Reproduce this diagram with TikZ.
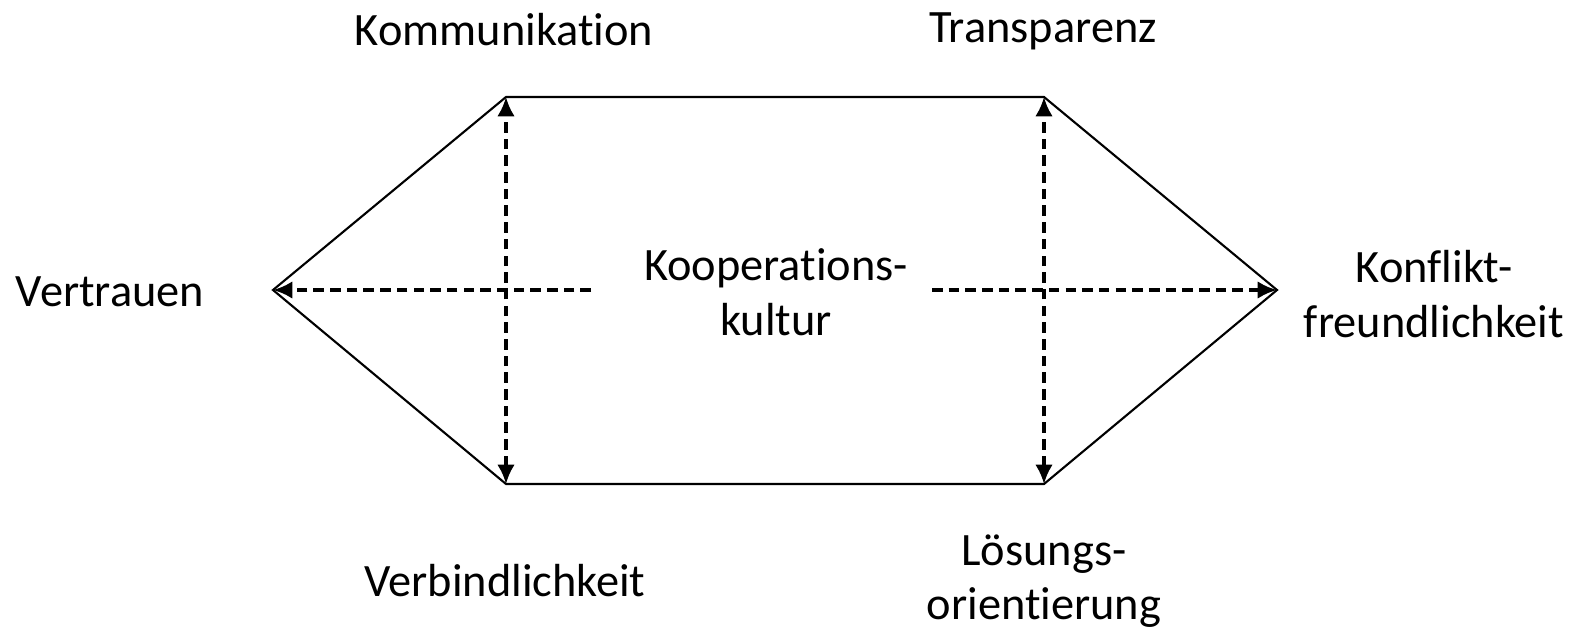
\documentclass[tikz,border=0pt]{standalone}
\usepackage{fontspec}
\setmainfont{Carlito}[Ligatures=NoCommon]
\usetikzlibrary{arrows.meta}
\begin{document}
\begin{tikzpicture}[x=0.02cm,y=-0.02cm,
  lbl/.style={font=\fontsize{26.4}{31}\selectfont,align=center,inner sep=0pt},
  edge/.style={line width=1.2pt,line join=miter},
  darrow/.style={line width=1.9pt,dash pattern=on 6pt off 3.5pt,
     -{Latex[length=11pt,width=10pt]}},
  ddarrow/.style={darrow,{Latex[length=11pt,width=10pt]}-{Latex[length=11pt,width=10pt]}}]
\useasboundingbox (0,0) rectangle (1573,632);
\coordinate (L) at (273,290);
\coordinate (TL) at (506,97);
\coordinate (TR) at (1044,97);
\coordinate (R) at (1277,290);
\coordinate (BR) at (1044,484);
\coordinate (BL) at (506,484);
\coordinate (hl) at (591,290);
\coordinate (hr) at (932,290);
\draw[edge] (L) -- (TL) -- (TR) -- (R) -- (BR) -- (BL) -- cycle;
\draw[darrow] (hl) -- (L);
\draw[darrow] (hr) -- (R);
\draw[ddarrow] (BL) -- (TL);
\draw[ddarrow] (BR) -- (TR);
\node[lbl] (komm) at (504,30) {Kommunikation};
\node[lbl] (trans) at (1043,31) {Transparenz};
\node[lbl] (vert) at (110,292) {Vertrauen};
\node[lbl] (koop) at (776,292) {Kooperations-\\kultur};
\node[lbl] (konf) at (1434,294) {Konflikt-\\freundlichkeit};
\node[lbl] (verb) at (505,581) {Verbindlichkeit};
\node[lbl] (loes) at (1044,581) {Lösungs-\\orientierung};
\end{tikzpicture}
\end{document}
